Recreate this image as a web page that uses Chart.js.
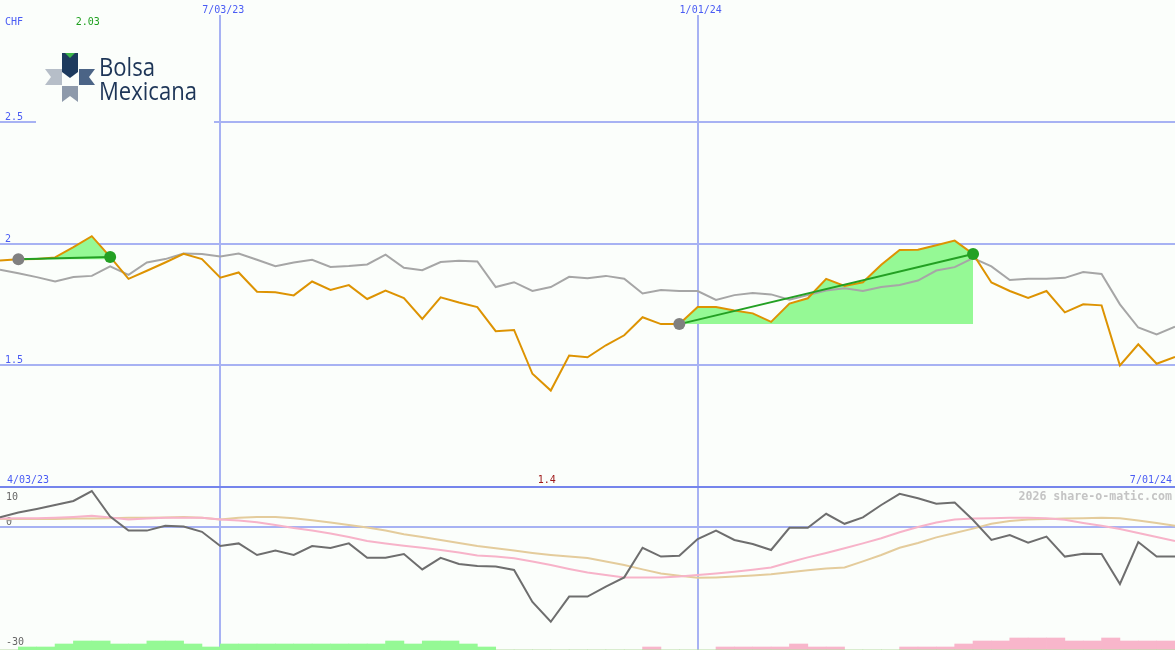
<!DOCTYPE html>
<html>
<head>
<meta charset="utf-8">
<script src="https://cdn.jsdelivr.net/npm/chart.js@4.4.1/dist/chart.umd.min.js"></script>
<style>
  html, body { margin: 0; padding: 0; background: #fbfefb; }
  #wrap { position: relative; width: 1175px; height: 650px; overflow: hidden; }
  canvas { position: absolute; left: 0; }
  #priceChart { top: 0; }
  #oscChart { top: 487px; }
</style>
</head>
<body>
<div id="wrap">
  <canvas id="priceChart" width="1175" height="487"></canvas>
  <canvas id="oscChart" width="1175" height="163"></canvas>
</div>
<script>
// weekly closes, 4/03/23 .. 7/01/24 (CHF)
const closes = [
  1.930, 1.935, 1.936, 1.943, 1.985, 2.030, 1.945, 1.855, 1.888, 1.922,
  1.958, 1.936, 1.860, 1.881, 1.802, 1.800, 1.787, 1.844, 1.809, 1.829,
  1.772, 1.807, 1.776, 1.690, 1.779, 1.758, 1.739, 1.640, 1.645, 1.465,
  1.396, 1.540, 1.533, 1.582, 1.623, 1.697, 1.669, 1.669, 1.739, 1.739,
  1.725, 1.713, 1.678, 1.753, 1.775, 1.855, 1.826, 1.841, 1.913, 1.973,
  1.974, 1.993, 2.012, 1.957, 1.840, 1.805, 1.776, 1.805, 1.717, 1.750,
  1.746, 1.499, 1.586, 1.506, 1.534
];
const average = [
  1.892, 1.878, 1.862, 1.844, 1.862, 1.867, 1.906, 1.871, 1.922, 1.936,
  1.959, 1.957, 1.947, 1.959, 1.933, 1.907, 1.922, 1.933, 1.904, 1.908,
  1.914, 1.954, 1.900, 1.890, 1.924, 1.929, 1.926, 1.821, 1.841, 1.805,
  1.821, 1.863, 1.857, 1.867, 1.855, 1.795, 1.809, 1.805, 1.805, 1.768,
  1.788, 1.797, 1.791, 1.769, 1.788, 1.807, 1.816, 1.805, 1.821, 1.830,
  1.848, 1.889, 1.903, 1.940, 1.906, 1.850, 1.855, 1.855, 1.859, 1.883,
  1.875, 1.750, 1.655, 1.627, 1.658
];
// trades: buy week -> sell week
const buyWeeks = [1, 37];
const sellWeeks = [6, 53];

// lower panel
const momentum = [
  2.4, 3.6, 4.5, 5.5, 6.5, 9.0, 2.6, -0.9, -0.9, 0.3,
  0.1, -1.2, -4.75, -4.1, -7.0, -5.9, -7.0, -4.75, -5.25, -4.1,
  -7.7, -7.7, -6.75, -10.6, -7.7, -9.25, -9.75, -9.9, -10.75, -18.75,
  -23.7, -17.4, -17.4, -14.9, -12.6, -5.2, -7.4, -7.2, -3.0, -0.9,
  -3.25, -4.25, -5.75, -0.2, -0.2, 3.3, 0.8, 2.4, 5.5, 8.3,
  7.2, 5.8, 6.1, 1.75, -3.25, -2.0, -3.9, -2.4, -7.4, -6.7,
  -6.75, -14.25, -3.75, -7.4, -7.4
];
const fastSignal = [
  2.1, 2.2, 2.2, 2.3, 2.5, 2.8, 2.4, 1.9, 2.1, 2.3,
  2.3, 2.3, 1.9, 1.6, 1.2, 0.5, -0.25, -0.9, -1.6, -2.5,
  -3.5, -4.1, -4.7, -5.2, -5.75, -6.4, -7.1, -7.4, -7.8, -8.6,
  -9.5, -10.5, -11.4, -12.0, -12.6, -12.6, -12.6, -12.4, -12.0, -11.6,
  -11.2, -10.7, -10.1, -8.8, -7.6, -6.5, -5.3, -4.1, -2.8, -1.3,
  0.0, 1.1, 1.9, 2.1, 2.2, 2.3, 2.3, 2.2, 1.8, 1.0,
  0.3, -0.5, -1.5, -2.5, -3.5
];
const slowSignal = [
  2.0, 2.0, 2.0, 2.0, 2.1, 2.1, 2.2, 2.3, 2.3, 2.4,
  2.5, 2.3, 1.9, 2.3, 2.5, 2.5, 2.2, 1.7, 1.1, 0.5,
  -0.1, -0.9, -1.8, -2.5, -3.25, -4.0, -4.75, -5.3, -5.9, -6.5,
  -7.0, -7.4, -7.75, -8.6, -9.5, -10.6, -11.6, -12.2, -12.7, -12.6,
  -12.4, -12.1, -11.8, -11.3, -10.8, -10.4, -10.1, -8.6, -7.0, -5.2,
  -4.0, -2.6, -1.5, -0.4, 0.8, 1.5, 1.9, 2.0, 2.1, 2.2,
  2.3, 2.2, 1.6, 1.0, 0.3
];
// signal strength bars, one per week interval
const barsUp = [
  0, 1, 1, 2, 3, 3, 2, 2, 3, 3, 2, 1, 2, 2, 2, 2, 2, 2, 2, 2,
  2, 3, 2, 3, 3, 2, 1, 0, 0, 0, 0, 0, 0, 0, 0, 0, 0, 0, 0, 0,
  0, 0, 0, 0, 0, 0, 0, 0, 0, 0, 0, 0, 0, 0, 0, 0, 0, 0, 0, 0,
  0, 0, 0, 0
];
const barsDown = [
  0, 0, 0, 0, 0, 0, 0, 0, 0, 0, 0, 0, 0, 0, 0, 0, 0, 0, 0, 0,
  0, 0, 0, 0, 0, 0, 0, 0, 0, 0, 0, 0, 0, 0, 0, 1, 0, 0, 0, 1,
  1, 1, 1, 2, 1, 1, 0, 0, 0, 1, 1, 1, 2, 3, 3, 4, 4, 4, 3, 3,
  4, 3, 3, 3
];

const gridWeeks = [12, 38];
const gridLabels = ['7/03/23', '1/01/24'];
const firstLabel = '4/03/23';
const lastLabel = '7/01/24';
const priceTicks = [1, 1.5, 2, 2.5];
const oscTicks = [-30, 0, 10];

const BG = '#fbfefb';
const GRID = '#a7b2f3';
const DIVIDER = '#7585ec';
const BLUE = '#4a5cf4';
const MONO = '"DejaVu Sans Mono", monospace';

function pts(arr, from, to) {
    const out = [];
    for (let i = from; i <= to; i++) out.push({ x: i, y: arr[i] });
    return out;
}

function xScale(ticks) {
    return {
        type: 'linear', min: 0, max: closes.length - 1, offset: false,
        afterBuildTicks: s => { s.ticks = ticks.map(v => ({ value: v })); },
        grid: { color: GRID, lineWidth: 2, drawTicks: false, offset: false },
        border: { display: false },
        ticks: { display: false }
    };
}

function drawLogo(ctx) {
    const poly = (color, p) => {
        ctx.fillStyle = color;
        ctx.beginPath();
        ctx.moveTo(p[0], p[1]);
        for (let i = 2; i < p.length; i += 2) ctx.lineTo(p[i], p[i + 1]);
        ctx.closePath();
        ctx.fill();
    };
    poly('#1d3a5e', [62, 53, 78, 53, 78, 72, 70, 78, 62, 72]);
    poly('#3db54a', [65, 53, 75, 53, 70, 58]);
    poly('#b6bec8', [45, 69, 62, 69, 62, 85, 45, 85, 51, 77]);
    poly('#4b6486', [79, 69, 95, 69, 89, 77, 95, 85, 79, 85]);
    poly('#8e9aab', [62, 86, 78, 86, 78, 102, 70, 96, 62, 102]);
    ctx.fillStyle = '#1d3557';
    ctx.textAlign = 'left';
    ctx.textBaseline = 'alphabetic';
    ctx.font = '26px "Open Sans", "Liberation Sans", sans-serif';
    ctx.fillText('Bolsa', 99, 76, 56);
    ctx.fillText('Mexicana', 99, 100, 98);
}

// header, logo and labels of the price panel
const priceDecor = {
    id: 'priceDecor',
    beforeDatasetsDraw(chart) {
        const ctx = chart.ctx;
        const x = chart.scales.x, y = chart.scales.y;
        ctx.save();
        ctx.fillStyle = BG;
        ctx.fillRect(0, 0, chart.width, 15);
        ctx.fillRect(36, 16, 178, 110);
        drawLogo(ctx);

        ctx.font = '10px ' + MONO;
        ctx.textBaseline = 'alphabetic';
        ctx.fillStyle = BLUE;
        ctx.textAlign = 'left';
        ctx.fillText('CHF', 5, 25);
        y.ticks.forEach(t => {
            if (t.value > y.min) ctx.fillText(String(t.value), 5, y.getPixelForValue(t.value) - 2);
        });
        ctx.textAlign = 'center';
        gridWeeks.forEach((w, k) => ctx.fillText(gridLabels[k], x.getPixelForValue(w) + 3, 13));
        ctx.textAlign = 'left';
        ctx.fillText(firstLabel, 7, 483);
        ctx.textAlign = 'right';
        ctx.fillText(lastLabel, 1172, 483);

        const hi = Math.max(...closes), lo = Math.min(...closes);
        const fmt = v => String(parseFloat(v.toFixed(2)));
        ctx.textAlign = 'center';
        ctx.fillStyle = '#1fa01f';
        ctx.fillText(fmt(hi), x.getPixelForValue(closes.indexOf(hi)) - 4, 25);
        ctx.fillStyle = '#a01a1a';
        ctx.fillText(fmt(lo), x.getPixelForValue(closes.indexOf(lo)) - 4, 483);
        ctx.restore();
    }
};

const oscDecor = {
    id: 'oscDecor',
    beforeDatasetsDraw(chart) {
        const ctx = chart.ctx, y = chart.scales.y;
        ctx.save();
        ctx.font = '10px ' + MONO;
        ctx.fillStyle = '#666666';
        ctx.textAlign = 'left';
        y.ticks.forEach(t => {
            ctx.fillText(String(t.value), 6, Math.max(y.getPixelForValue(t.value) - 2, 13));
        });
        ctx.font = 'bold 11.6px ' + MONO;
        ctx.fillStyle = '#c4c4c4';
        ctx.textAlign = 'right';
        ctx.fillText('2026 share-o-matic.com', 1172, 13);
        ctx.restore();
    }
};

const lineBase = { type: 'line', pointRadius: 0, borderWidth: 2, tension: 0, fill: false };

// price panel datasets
const priceSets = [];
buyWeeks.forEach((b, k) => {
    const s = sellWeeks[k];
    priceSets.push({ ...lineBase, data: pts(closes, b, s), borderWidth: 0,
        backgroundColor: '#95f995', fill: { value: closes[b] }, order: 6 });
    priceSets.push({ ...lineBase, data: [{ x: b, y: closes[b] }, { x: s, y: closes[s] }],
        borderColor: '#23a023', order: 2 });
});
priceSets.push({ ...lineBase, data: pts(average, 0, average.length - 1), borderColor: '#a6a6a6', order: 4 });
priceSets.push({ ...lineBase, data: pts(closes, 0, closes.length - 1), borderColor: '#dd9302', order: 3 });
priceSets.push({ ...lineBase, showLine: false, data: buyWeeks.map(i => ({ x: i, y: closes[i] })),
    pointRadius: 6, pointBorderWidth: 0, pointBackgroundColor: '#808080', order: 1 });
priceSets.push({ ...lineBase, showLine: false, data: sellWeeks.map(i => ({ x: i, y: closes[i] })),
    pointRadius: 6, pointBorderWidth: 0, pointBackgroundColor: '#23a023', order: 0 });

new Chart(document.getElementById('priceChart'), {
    type: 'line',
    data: { datasets: priceSets },
    options: {
        responsive: false, animation: false, events: [],
        layout: { padding: 0, autoPadding: false },
        plugins: { legend: { display: false }, tooltip: { enabled: false } },
        scales: {
            x: xScale(gridWeeks),
            y: {
                type: 'linear', min: 1, max: 3,
                afterBuildTicks: s => { s.ticks = priceTicks.map(v => ({ value: v })); },
                grid: { color: c => c.tick.value === 1 ? DIVIDER : GRID, lineWidth: 2, drawTicks: false },
                border: { display: false },
                ticks: { display: false }
            }
        }
    },
    plugins: [priceDecor]
});

// oscillator panel; bars sit on their own x axis, one slot per week interval
const barPts = arr => arr.map((v, k) => ({ x: k, y: v }));
const barBase = { type: 'bar', xAxisID: 'xb', yAxisID: 'yh', borderWidth: 0,
    grouped: false, barPercentage: 1, categoryPercentage: 1 };
new Chart(document.getElementById('oscChart'), {
    type: 'line',
    data: {
        datasets: [
            { ...lineBase, data: pts(momentum, 0, momentum.length - 1), borderColor: '#6e6e6e', order: 0 },
            { ...lineBase, data: pts(fastSignal, 0, fastSignal.length - 1), borderColor: '#f7b3c9', order: 1 },
            { ...lineBase, data: pts(slowSignal, 0, slowSignal.length - 1), borderColor: '#e4cc9c', order: 2 },
            { ...barBase, data: barPts(barsUp), backgroundColor: '#95f995', order: 3 },
            { ...barBase, data: barPts(barsDown), backgroundColor: '#f8b6cb', order: 4 }
        ]
    },
    options: {
        responsive: false, animation: false, events: [],
        layout: { padding: 0, autoPadding: false },
        plugins: { legend: { display: false }, tooltip: { enabled: false } },
        scales: {
            x: xScale(gridWeeks),
            xb: { type: 'linear', display: false, offset: false, min: -0.5, max: barsUp.length - 0.5 },
            y: {
                type: 'linear', min: -30.75, max: 10,
                afterBuildTicks: s => { s.ticks = oscTicks.map(v => ({ value: v })); },
                grid: {
                    color: c => c.tick.value === 10 ? DIVIDER : (c.tick.value === 0 ? GRID : 'rgba(0,0,0,0)'),
                    lineWidth: 2, drawTicks: false
                },
                border: { display: false },
                ticks: { display: false }
            },
            yh: { type: 'linear', display: false, min: 0, max: 163 / 3 }
        }
    },
    plugins: [oscDecor]
});
</script>
</body>
</html>
